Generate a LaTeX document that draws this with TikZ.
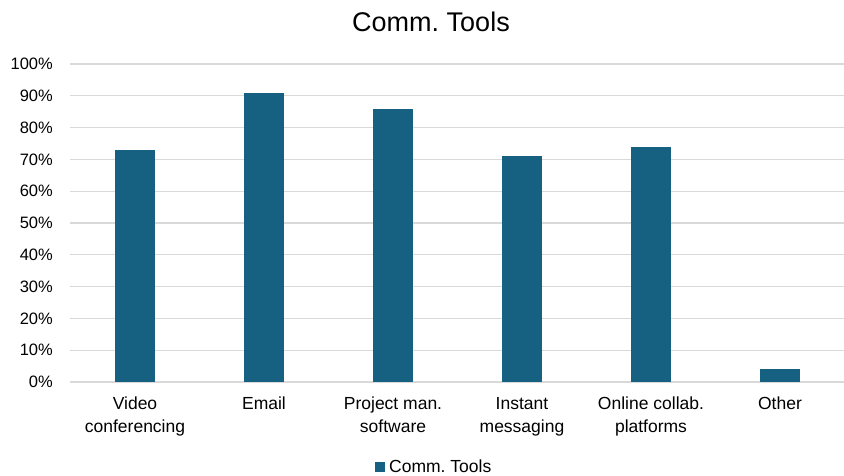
\documentclass[tikz,border=0pt]{standalone}
\usepackage{fontspec}
\setmainfont{Liberation Sans}
\frenchspacing
\definecolor{barblue}{HTML}{166082}
\definecolor{gridgrey}{HTML}{D9D9D9}
\begin{document}
\begin{tikzpicture}[x=1pt,y=-1pt,
  gridline/.style={draw=gridgrey,line width=1.2pt},
  bar/.style={fill=barblue},
  ticklabel/.style={anchor=east,inner sep=0pt,font=\fontsize{16.5}{18}\selectfont},
  catlabel/.style={anchor=north,inner sep=0pt,align=center,font=\fontsize{17.5}{23}\selectfont},
  titlelabel/.style={inner sep=0pt,font=\fontsize{27}{30}\selectfont}]
\useasboundingbox (0,0) rectangle (844,475);
\fill[white] (0,0) rectangle (844,475);
% horizontal grid, 0% at y=382, 10% every 31.8
\foreach \i in {0,...,10}{
  \pgfmathsetmacro{\yy}{382-31.8*\i}
  \pgfmathtruncatemacro{\pct}{10*\i}
  \draw[gridline] (70,\yy) -- (844,\yy);
  \node[ticklabel] (t\i) at (53,\yy) {\pct\%};
}
% bars: centre, value
\foreach \c/\v in {135/73,264/91,393/86,522/71,651/74,780/4}{
  \fill[bar] (\c-20,382) rectangle (\c+20,{382-3.18*\v});
}
% category labels
\node[catlabel] (c1) at (135,397) {Video\\conferencing};
\node[catlabel] (c2) at (264,397) {Email};
\node[catlabel] (c3) at (393,397) {Project man.\\software};
\node[catlabel] (c4) at (522,397) {Instant\\messaging};
\node[catlabel] (c5) at (651,397) {Online collab.\\platforms};
\node[catlabel] (c6) at (780,397) {Other};
% title
\node[titlelabel] (title) at (431,22) {Comm. Tools};
% legend
\fill[bar] (375,462) rectangle (385,472);
\node[anchor=west,inner sep=0pt,font=\fontsize{17.5}{20}\selectfont] (leg) at (389,466) {Comm. Tools};
\end{tikzpicture}
\end{document}
